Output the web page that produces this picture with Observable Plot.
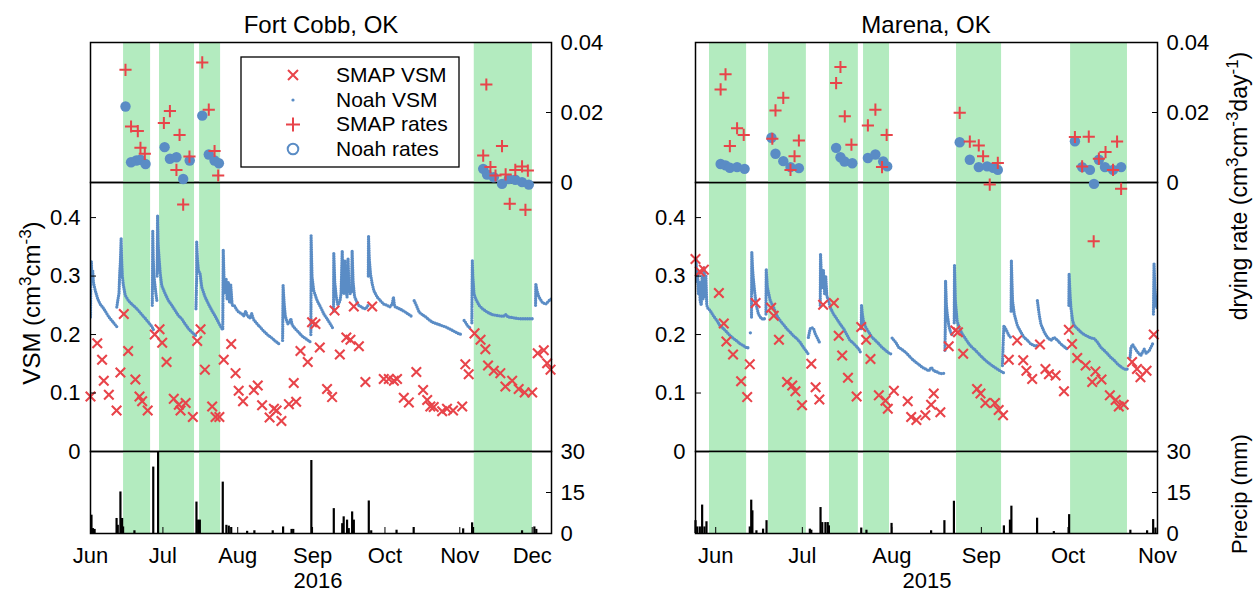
<!DOCTYPE html>
<html><head><meta charset="utf-8">
<script src="https://cdn.jsdelivr.net/npm/d3@7"></script>
<script src="https://cdn.jsdelivr.net/npm/@observablehq/plot@0.6"></script>
<style>
body{margin:0;background:#fff;}
#wrap{position:relative;width:1260px;height:594px;overflow:hidden;background:#fff;font-family:"Liberation Sans",Arial,Helvetica,sans-serif;}
#wrap svg{position:absolute;}
</style></head><body><div id="wrap"></div>
<script>
const RED = "#e8444a";
const BLUE = "#5a8cc5";
const GREEN = "#b3ebbf";
const FONT = "'Liberation Sans', Arial, Helvetica, sans-serif";

const vsmTicks = [0, 0.1, 0.2, 0.3, 0.4];
const rateTicks = [0, 0.02, 0.04];
const precipTicks = [0, 15, 30];

// ---------- Fort Cobb, OK (2016) : day offsets from fcStart ----------
const fcStart = "2016-06-01";
const fcDays = 191;
const fcBands = [[13.7,24.9],[28.6,43.1],[45.2,53.9],[159,183.1]];
const fcNoah = [
 [[0,0.23],[0.15,0.30],[0.35,0.325],[0.6,0.295],[0.9,0.31],[1.2,0.29],[1.6,0.282],[2,0.275],[3,0.261],[4,0.252],[5,0.247],[6,0.241],[7,0.234],[8,0.228],[9,0.223],[10,0.218],[11,0.213],[11.6,0.213]],
 [[10.9,0.247],[11.3,0.258],[11.8,0.27],[12.1,0.304],[12.4,0.326],[12.7,0.364],[12.9,0.33],[13.2,0.30],[13.6,0.285],[14.4,0.267],[15.7,0.258],[17.1,0.252],[18.5,0.247],[19.9,0.241],[21.3,0.234],[22.6,0.228],[24,0.221],[25.4,0.214],[26.1,0.208]],
 [[25.6,0.25],[25.7,0.30],[25.8,0.378],[26.0,0.33],[26.3,0.30],[26.7,0.285],[27.1,0.27],[27.5,0.258]],
 [[27.6,0.30],[27.8,0.403],[28.0,0.36],[28.2,0.343],[28.9,0.304],[29.5,0.284],[30.9,0.27],[32.3,0.258],[33.7,0.25],[35.1,0.241],[36.5,0.232],[37.8,0.227],[39.2,0.218],[40.6,0.21],[42,0.204],[43.6,0.198]],
 [[43.7,0.244],[44.0,0.30],[44.0,0.358],[44.3,0.33],[44.7,0.31],[45.4,0.304],[46.1,0.281],[47.5,0.264],[48.9,0.252],[50.3,0.241],[51.6,0.232],[53,0.221],[54.4,0.21],[55.1,0.207]],
 [[54.8,0.21],[54.9,0.28],[55.0,0.345],[55.3,0.30],[55.7,0.27],[56.2,0.295],[56.6,0.26],[57.1,0.29],[57.6,0.255],[58.1,0.285],[58.7,0.25],[59.5,0.25],[60.5,0.243],[61.5,0.238],[62.5,0.236],[63.5,0.232],[64.3,0.24],[65,0.232],[66,0.228],[66.8,0.236],[67.5,0.226],[68.5,0.221],[69.5,0.216],[70.5,0.212],[71.5,0.207],[72.5,0.203],[73.5,0.199],[74.5,0.196],[75.5,0.193],[76.5,0.189],[77.5,0.186],[78.7,0.182]],
 [[79.6,0.19],[79.8,0.284],[80.2,0.255],[80.7,0.232],[81.7,0.218],[82.5,0.222],[83,0.227],[83.6,0.216],[84.8,0.21],[86.2,0.204],[87.5,0.198],[88.8,0.194],[90.2,0.19],[91.2,0.187]],
 [[91.3,0.2],[91.4,0.30],[91.4,0.369],[91.6,0.33],[91.8,0.298],[92.5,0.275],[93.9,0.258],[95.3,0.247],[96.7,0.235],[98,0.227],[99.4,0.218],[100.5,0.21]],
 [[100.7,0.24],[100.8,0.34],[101.2,0.29],[101.8,0.265],[102.5,0.25],[103.4,0.258],[103.8,0.27],[104.3,0.343],[104.6,0.29],[105,0.27],[105.4,0.326],[105.8,0.28],[106.3,0.264],[106.7,0.33],[107.1,0.28],[107.6,0.27],[108.2,0.275],[108.4,0.343],[108.8,0.29],[109.4,0.265],[110.1,0.258],[111,0.25],[112,0.248],[113,0.245],[114,0.244],[115,0.25]],
 [[115.1,0.30],[115.2,0.369],[115.5,0.33],[116,0.304],[116.7,0.287],[117.4,0.275],[118.8,0.264],[120.1,0.258],[121.5,0.252],[122.9,0.25],[124,0.247],[125,0.252],[125.5,0.264],[126,0.248],[127.5,0.245],[129,0.242],[130.6,0.238],[132,0.234],[133.4,0.23]],
 [[134.1,0.258],[135,0.25],[136.2,0.238],[137.5,0.234],[138.9,0.23],[140.3,0.225],[141.7,0.221],[143,0.219],[144.4,0.217],[145.8,0.215],[147.2,0.213],[148.6,0.21],[150,0.207],[151.4,0.204],[152.7,0.201],[154.1,0.2]],
 [[154.8,0.224],[155.5,0.22],[156.2,0.215],[157.5,0.21]],
 [[158.0,0.22],[158.1,0.28],[158.2,0.326],[158.4,0.30],[158.9,0.27],[159.6,0.261],[161,0.25],[162.4,0.244],[164.5,0.238],[166.5,0.234],[169.3,0.232],[171,0.231],[172.1,0.234],[173,0.23],[174.8,0.229],[177.6,0.227],[180.4,0.227],[183.1,0.227],[183.8,0.226]],
 [[184.4,0.25],[184.5,0.287],[185,0.275],[185.8,0.264],[187.2,0.255],[188.6,0.252],[190,0.258],[191,0.261]]
];
const fcSmapVsm = [[0,0.094],[2.8,0.185],[4.8,0.157],[5.5,0.121],[7.6,0.097],[10.8,0.070],[12.4,0.135],[13.8,0.235],[15.6,0.172],[18.6,0.123],[20.3,0.094],[21.4,0.086],[23.7,0.070],[26.6,0.200],[28.6,0.209],[29.7,0.186],[31.5,0.153],[34.5,0.090],[36.6,0.080],[37.3,0.070],[39.4,0.083],[42.4,0.059],[44.2,0.189],[45.6,0.209],[47.4,0.140],[50.4,0.077],[51.8,0.059],[53.4,0.059],[55.2,0.157],[58.3,0.184],[60.1,0.134],[61.4,0.104],[63.2,0.086],[67.7,0.105],[69.3,0.113],[71.1,0.079],[74.2,0.058],[76,0.073],[77.1,0.070],[79.1,0.052],[82.2,0.081],[84.2,0.117],[85.2,0.085],[87,0.172],[90,0.153],[91.8,0.221],[93.2,0.218],[95,0.178],[98,0.107],[100.1,0.093],[101.1,0.241],[103.3,0.166],[106,0.195],[107.7,0.191],[109.1,0.248],[111.2,0.180],[113.9,0.119],[116.7,0.248],[121.5,0.124],[123.6,0.124],[125.7,0.121],[127,0.124],[129.8,0.092],[131.9,0.084],[135,0.136],[137.8,0.105],[139.5,0.088],[140.8,0.077],[142.2,0.076],[145.7,0.069],[147.7,0.073],[150.2,0.070],[154,0.077],[155.3,0.149],[156.7,0.132],[159.1,0.202],[161.6,0.191],[163.6,0.175],[164.7,0.147],[167.1,0.138],[169.8,0.134],[171.9,0.111],[174.7,0.121],[177.4,0.107],[179.9,0.101],[183,0.101],[185.3,0.168],[187.8,0.173],[189.2,0.151],[190.6,0.140]];
const fcSmapRate = [[14.5,0.0322],[16.8,0.0160],[19.6,0.0147],[20.7,0.0099],[22.5,0.0082],[30.4,0.0170],[32.9,0.0204],[35.6,0.0036],[36.9,0.0136],[38.4,-0.0063],[41,0.0074],[46.3,0.0343],[49,0.0208],[51.4,0.0090],[52.9,0.0020],[162.7,0.0077],[164,0.0280],[165.7,0.0044],[167.8,0.0020],[170.5,0.0104],[172,0.0023],[173.7,-0.0061],[176,0.0036],[178.8,0.0046],[180.2,-0.0078],[181.2,0.0034]];
const fcNoahRate = [[14.5,0.0217],[16.8,0.0058],[19,0.0063],[20.7,0.0065],[22.8,0.0053],[30.7,0.0101],[32.9,0.0068],[35.6,0.0072],[38.4,0.0010],[41.1,0.0063],[46.3,0.0191],[49,0.0080],[51.4,0.0063],[53.2,0.0055],[162.7,0.0039],[164.3,0.0023],[167.1,0.0015],[170.5,-0.0004],[173.3,0.0010],[176,0.0008],[178.8,0.0001],[181.6,-0.0006]];
const fcPrecip = [[0.4,6.7],[1,1.8],[1.7,1.5],[10.8,5.5],[11.3,3],[12.4,15.2],[13.1,5.5],[13.5,2.4],[18.2,1],[26,24.3],[28,30],[43.9,11.5],[44.6,4.9],[45.3,4.9],[54.8,18.8],[56.3,3],[57.3,2.7],[58.3,2.2],[64.9,0.8],[67.9,1],[75.5,1],[79.8,2.4],[83.3,1.5],[84,1.5],[91.5,26.7],[100.8,9.1],[104.3,3.6],[104.9,6.1],[106.3,4.9],[107,1.8],[108.4,7.9],[109.1,4.9],[115.3,11.9],[116.3,1],[126.8,1.2],[133.9,2.2],[154.4,1.7],[158.1,3.9],[158.5,2.2],[178.8,1],[183.9,2.4],[184.7,1.5]];

// ---------- Marena, OK (2015) : day offsets from mrStart ----------
const mrStart = "2015-05-25";
const mrDays = 160;
const mrBands = [[4.85,17.7],[25.3,38.4],[46.4,56.4],[58.2,67.2],[90.4,106],[129.9,149.6]];
const mrNoah = [
 [[0,0.30],[0.2,0.33],[0.4,0.29],[0.7,0.31],[1,0.27],[1.3,0.29],[1.6,0.258],[2.0,0.25],[2.3,0.30],[2.6,0.26],[3.0,0.315],[3.3,0.265],[3.6,0.30],[3.9,0.25],[4.3,0.245],[5.1,0.241],[6.2,0.232],[7.4,0.224],[8.5,0.215],[9.7,0.21],[10.9,0.204],[12,0.198],[13.2,0.193],[14.3,0.189],[15.5,0.184],[16.6,0.181],[17.8,0.177],[18.7,0.178]],
 [[19.0,0.203],[19.1,0.205]],
 [[19.4,0.23],[19.5,0.341],[19.8,0.31],[20.1,0.292],[20.7,0.264],[21.2,0.247],[21.8,0.235],[22.4,0.23],[23,0.227],[23.5,0.227],[24,0.227]],
 [[24.4,0.235],[24.5,0.312],[24.9,0.281],[25.9,0.258],[27,0.247],[28.2,0.232],[29.3,0.224],[30.5,0.217],[31.6,0.21],[32.8,0.204],[33.9,0.198],[35.1,0.193],[36.2,0.187],[37.4,0.178],[38.6,0.17],[39.1,0.166]],
 [[39.1,0.195],[39.7,0.21],[40.3,0.212],[40.9,0.21],[41.5,0.201],[42.1,0.195],[42.6,0.19],[43.2,0.184]],
 [[43.2,0.25],[43.3,0.338],[43.6,0.30],[44,0.28],[44.3,0.31],[44.7,0.27],[45.1,0.3],[45.5,0.265],[46,0.26],[46.6,0.247],[47.8,0.235],[48.9,0.227],[50.1,0.218],[51.3,0.21],[52.5,0.199],[53.5,0.19],[54.3,0.187],[55.5,0.181],[56.6,0.175],[57.1,0.17]],
 [[57.4,0.21],[57.5,0.25],[57.8,0.235],[58.2,0.222],[58.9,0.213],[60,0.204],[61.2,0.195],[62.3,0.19],[63.5,0.184],[64.6,0.178],[65.8,0.173],[67.1,0.168],[68.1,0.166]],
 [[68.1,0.194],[69.3,0.187],[70.4,0.178],[71.6,0.174],[72.7,0.17],[73.9,0.164],[75,0.158],[76.2,0.153],[77.3,0.149],[78.5,0.144],[79.7,0.141],[80.8,0.138],[81.7,0.144],[82.5,0.138],[83.7,0.136],[84.8,0.133],[86.3,0.134]],
 [[86.4,0.173],[86.5,0.21],[86.6,0.292],[86.9,0.25],[87.2,0.235],[87.8,0.213],[88.4,0.204],[89,0.198]],
 [[89.6,0.22],[89.7,0.318],[90,0.258],[90.6,0.224],[91.2,0.213],[92.4,0.201],[93.5,0.193],[94.7,0.184],[95.8,0.178],[97,0.173],[98.1,0.167],[99.3,0.161],[100.4,0.156],[101.6,0.151],[102.7,0.147],[103.9,0.143],[105.1,0.139],[106.2,0.136],[106.9,0.134]],
 [[106.3,0.147],[106.5,0.178],[106.8,0.215],[107.4,0.21],[108,0.204],[108.6,0.198],[109.2,0.195]],
 [[109.3,0.24],[109.4,0.326],[109.6,0.29],[109.8,0.258],[110.4,0.235],[111,0.224],[111.5,0.215],[112.7,0.204],[113.8,0.195],[115,0.19],[116.1,0.184],[117.3,0.181],[118.3,0.181]],
 [[118.4,0.258],[119,0.235],[119.6,0.218],[120.8,0.204],[121.9,0.195],[123.1,0.19],[124.2,0.195],[125.4,0.19],[126.5,0.184],[127.7,0.179],[128.8,0.175]],
 [[129.3,0.25],[129.4,0.304],[129.7,0.27],[130,0.247],[130.6,0.224],[131.2,0.215],[132.3,0.21],[133.5,0.204],[134.6,0.2],[135.8,0.197],[136.9,0.194],[138.1,0.193],[139.2,0.187],[140.4,0.178],[141.5,0.173],[142.7,0.167],[143.8,0.161],[145,0.156],[146.1,0.15],[147.3,0.145],[148.5,0.141],[150.2,0.141]],
 [[150.5,0.161],[150.8,0.178],[151.4,0.183],[152,0.178],[153.1,0.17],[154.2,0.164],[155.4,0.175],[156,0.168],[157.1,0.172],[157.7,0.178],[158.3,0.184]],
 [[158.6,0.235],[158.8,0.321],[159.1,0.28],[159.5,0.25],[159.9,0.245],[160.3,0.26],[160.6,0.245]]
];
const mrSmapVsm = [[0,0.329],[1.5,0.308],[2.9,0.311],[8.1,0.271],[9.8,0.219],[10.7,0.188],[13,0.166],[15.8,0.120],[17.9,0.093],[18.8,0.149],[20.8,0.254],[26.2,0.246],[27.1,0.232],[28.9,0.191],[31.7,0.119],[33.5,0.113],[34.6,0.103],[36.9,0.079],[40.1,0.150],[41.6,0.110],[42.9,0.089],[44.2,0.251],[47.9,0.254],[49.6,0.198],[50.8,0.164],[52.8,0.126],[55.8,0.094],[57.4,0.213],[59.1,0.191],[60.6,0.158],[63.5,0.096],[65.8,0.087],[66.6,0.073],[68.7,0.104],[73.5,0.086],[74.7,0.059],[76.5,0.054],[79.6,0.062],[81.6,0.080],[82.5,0.099],[84.8,0.067],[87.7,0.180],[90,0.207],[90.9,0.204],[92.7,0.167],[97.5,0.107],[98.7,0.099],[100.4,0.083],[103.7,0.083],[105,0.071],[106.5,0.062],[108.5,0.157],[111.4,0.190],[113.5,0.156],[114.6,0.138],[116.6,0.124],[119.3,0.183],[121.2,0.141],[122.4,0.132],[124.7,0.130],[127.6,0.103],[129.3,0.208],[130.4,0.184],[132.2,0.160],[135.1,0.147],[137.4,0.119],[138.5,0.137],[140.6,0.123],[143.5,0.096],[145.5,0.088],[146.6,0.077],[148.3,0.080],[151.2,0.153],[152.9,0.141],[154.1,0.127],[156.2,0.138],[158.7,0.200]];
const mrSmapRate = [[8.7,0.0266],[10.4,0.0309],[11.9,0.0104],[14.4,0.0155],[16.7,0.0136],[26.6,0.0125],[27.7,0.0206],[30.4,0.0242],[32.9,0.0036],[34.3,0.0075],[35.8,0.0120],[48.7,0.0284],[50.2,0.0330],[51.7,0.0189],[54,0.0108],[59.7,0.0163],[62.3,0.0208],[64.6,0.0044],[66.2,0.0136],[91.5,0.0199],[95,0.0117],[98.1,0.0106],[99.6,0.0075],[101.9,-0.0006],[104.7,0.0056],[131.4,0.0130],[133.9,0.0046],[136.2,0.0131],[137.9,-0.0168],[139.7,0.0068],[142,0.0087],[144.6,0.0036],[146,0.0117],[147.4,-0.0018]];
const mrNoahRate = [[8.7,0.0053],[10.4,0.0049],[11.9,0.0042],[14.4,0.0044],[17,0.0039],[26.3,0.0128],[27.7,0.0082],[30.4,0.0061],[32.9,0.0044],[35.8,0.0041],[48.7,0.0099],[50.2,0.0072],[51.6,0.0060],[54.3,0.0055],[59.7,0.0070],[62.3,0.0080],[65,0.0060],[66.4,0.0046],[91.5,0.0115],[95,0.0065],[98.1,0.0044],[101,0.0046],[103.1,0.0042],[104.7,0.0036],[131.4,0.0118],[133.9,0.0044],[136.6,0.0036],[138,-0.0004],[139.7,0.0065],[141.8,0.0044],[144.6,0.0036],[147.4,0.0044]];
const mrPrecip = [[0,4.7],[0.6,2.4],[1.5,2.4],[2.3,10.4],[3.1,2.4],[3.8,4.3],[18.8,2.4],[19.3,12.2],[19.7,8.3],[21.1,1],[23.4,1.6],[24.6,4.7],[39.6,1.6],[40.1,1.2],[43.3,9.5],[43.9,4],[45,4],[45.8,4],[46.2,2.8],[57.4,2],[59.2,1.2],[67.9,3.7],[81.6,1],[86.2,4.7],[89.5,11.8],[106.8,2.8],[108.9,4.9],[109.4,10],[118.3,5.6],[124.1,0.7],[129.4,6.9],[150.6,1.2],[156.4,1],[158.5,5.1],[159.3,2]];

function toDate(start, d) { return new Date(Date.parse(start + "T00:00:00Z") + d * 86400000); }

const wrap = document.getElementById("wrap");
function place(el, left, top, z) {
  el.style.left = left + "px"; el.style.top = top + "px"; el.style.zIndex = z;
  wrap.appendChild(el);
}
const baseStyle = {background: "none", overflow: "visible", fontSize: "22px", fontFamily: FONT, color: "black"};
const fmt = d => String(d);

function drawPanel(p) {
  const T = d => toDate(p.start, d);
  const xs = {type: "utc", domain: [T(0), T(p.days)], axis: null};
  const months = d3.utcMonth.range(T(0), T(p.days + 0.01));
  const bands = p.bands.map(([a, b]) => ({x1: T(a), x2: T(b)}));
  const bandMark = () => Plot.rect(bands, {x1: "x1", x2: "x2", fill: GREEN});
  const pts = arr => arr.map(([d, v]) => ({x: T(d), y: v}));
  const noah = p.noah.flatMap((seg, i) => seg.map(([d, v]) => ({x: T(d), y: v, seg: i})));
  const precip = p.precip.map(([d, v]) => ({x: T(d), y1: 0, y2: v}));
  const frame = () => Plot.frame({stroke: "black", strokeWidth: 1.5});
  const common = {width: p.width, marginLeft: p.ml, marginRight: p.mr, style: baseStyle};

  // middle: VSM
  const mid = Plot.plot({
    ...common, height: 269, marginTop: 0, marginBottom: 0,
    x: xs, y: {domain: [0, 0.46], axis: null},
    marks: [
      bandMark(),
      Plot.line(noah, {x: "x", y: "y", z: "seg", stroke: BLUE, strokeWidth: 3.3, strokeDasharray: "0 2.3", strokeLinecap: "round", strokeLinejoin: "round", clip: true}),
      Plot.dot(pts(p.smapVsm), {x: "x", y: "y", symbol: "times", r: 4.4, stroke: RED, strokeWidth: 2.1}),
      Plot.axisY(vsmTicks, {anchor: "left", tickSize: 0, tickPadding: 10, tickFormat: fmt, label: null}),
      Plot.axisY(vsmTicks.slice(1), {anchor: "left", tickSize: -6, tickFormat: () => "", label: null}),
      frame()
    ]
  });
  place(mid, p.left, 182, 1);

  // bottom: precipitation
  const bot = Plot.plot({
    ...common, height: 143, marginTop: 0, marginBottom: 61,
    x: {...xs}, y: {domain: [0, 30], axis: null},
    marks: [
      bandMark(),
      Plot.ruleX(precip, {x: "x", y1: "y1", y2: "y2", stroke: "black", strokeWidth: 2.2}),
      Plot.axisY(precipTicks, {anchor: "right", tickSize: 0, tickPadding: 9, tickFormat: fmt, label: null}),
      Plot.axisY([15], {anchor: "right", tickSize: -6, tickFormat: () => "", label: null}),
      Plot.axisX(months, {anchor: "bottom", tickSize: 0, tickPadding: 14, tickFormat: d3.utcFormat("%b"), label: null}),
      Plot.axisX(months, {anchor: "bottom", tickSize: -6, tickFormat: () => "", label: null}),
      frame()
    ]
  });
  place(bot, p.left, 451, 2);

  // top: drying rates
  const top = Plot.plot({
    ...common, height: 160, marginTop: 10, marginBottom: 10,
    x: xs, y: {domain: [0, 0.04], axis: null},
    marks: [
      bandMark(),
      frame(),
      Plot.axisY(rateTicks, {anchor: "right", tickSize: 0, tickPadding: 9, tickFormat: fmt, label: null}),
      Plot.axisY([0.02], {anchor: "right", tickSize: -6, tickFormat: () => "", label: null}),
      Plot.dot(pts(p.noahRate), {x: "x", y: "y", r: 5.2, fill: BLUE}),
      Plot.dot(pts(p.smapRate), {x: "x", y: "y", symbol: "plus", r: 4, stroke: RED, strokeWidth: 2})
    ]
  });
  place(top, p.left, 32, 3);
}

drawPanel({start: fcStart, days: fcDays, left: 0, width: 620, ml: 90, mr: 69,
  bands: fcBands, noah: fcNoah, smapVsm: fcSmapVsm, smapRate: fcSmapRate, noahRate: fcNoahRate, precip: fcPrecip});
drawPanel({start: mrStart, days: mrDays, left: 620, width: 640, ml: 75, mr: 103,
  bands: mrBands, noah: mrNoah, smapVsm: mrSmapVsm, smapRate: mrSmapRate, noahRate: mrNoahRate, precip: mrPrecip});

// overlay: titles, axis labels, legend
const titles = ["Fort Cobb, OK", "Marena, OK"];
const years = ["2016", "2015"];
const legendLabels = ["SMAP VSM", "Noah VSM", "SMAP rates", "Noah rates"];
const sup = (s) => `<tspan dy="-9" font-size="17">${s}</tspan><tspan dy="9">`;
const ov = `
<svg xmlns="http://www.w3.org/2000/svg" width="1260" height="594" style="left:0;top:0;z-index:5;font-family:${FONT}">
  <text x="321" y="33" font-size="24" text-anchor="middle">${titles[0]}</text>
  <text x="926" y="33" font-size="24" text-anchor="middle">${titles[1]}</text>
  <text x="318" y="588" font-size="22" text-anchor="middle">${years[0]}</text>
  <text x="927" y="588" font-size="22" text-anchor="middle">${years[1]}</text>
  <text transform="translate(40,303) rotate(-90)" font-size="24" text-anchor="middle">VSM (cm${sup("3")}cm${sup("-3")})</tspan></tspan></text>
  <text transform="translate(1247,186) rotate(-90)" font-size="23" text-anchor="middle">drying rate (cm${sup("3")}cm${sup("-3")}day${sup("-1")})</tspan></tspan></tspan></text>
  <text transform="translate(1247,494) rotate(-90)" font-size="22" text-anchor="middle">Precip (mm)</text>
  <rect x="241" y="57" width="218" height="110" fill="white" stroke="black" stroke-width="1.3"/>
  <g stroke="${RED}" stroke-width="2" fill="none">
    <path d="M288,70L298,80M288,80L298,70"/>
    <path d="M286,124.5H300M293,117.5V131.5"/>
  </g>
  <circle cx="293" cy="100" r="1.6" fill="${BLUE}"/>
  <circle cx="293" cy="149" r="5.3" fill="none" stroke="${BLUE}" stroke-width="2"/>
  <g font-size="21">
    <text x="336" y="82">${legendLabels[0]}</text>
    <text x="336" y="107">${legendLabels[1]}</text>
    <text x="336" y="131">${legendLabels[2]}</text>
    <text x="336" y="156">${legendLabels[3]}</text>
  </g>
</svg>`;
wrap.insertAdjacentHTML("beforeend", ov);
</script></body></html>
